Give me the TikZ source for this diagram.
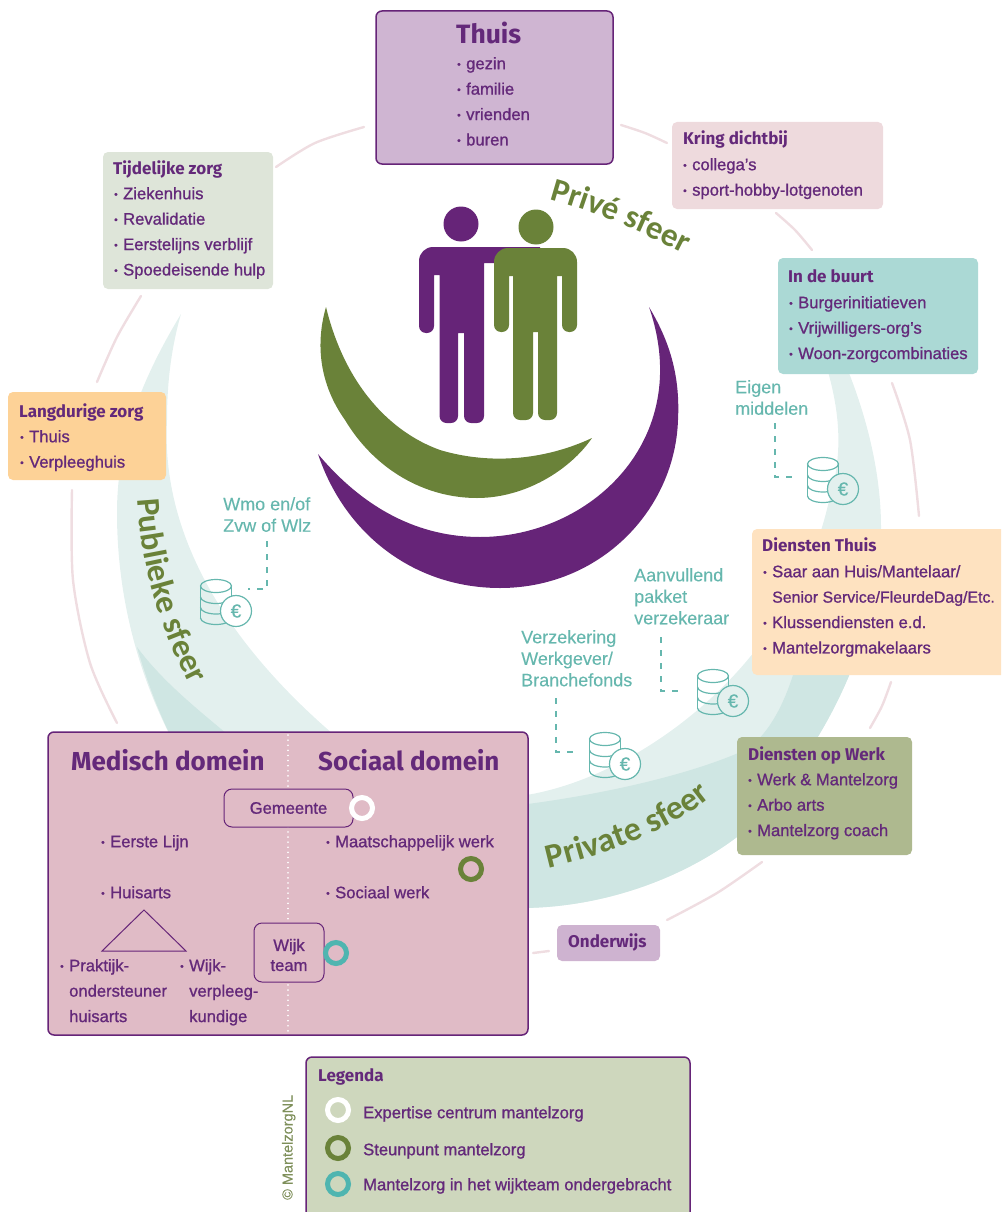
\documentclass[tikz,border=0pt]{standalone}
\usepackage{fontspec}
\usetikzlibrary{decorations.text}
\newfontfamily\bodyf{Liberation Sans}[FakeBold=1]
\newfontfamily\plainf{Liberation Sans}[FakeBold=0.15]
\newfontfamily\headf{Fira Sans}
\newfontfamily\sferf{Carlito}
\definecolor{pp}{HTML}{662478}
\definecolor{txtp}{HTML}{64297A}
\definecolor{gr}{HTML}{6A8239}
\definecolor{tl}{HTML}{66B7AE}
\definecolor{ringt}{HTML}{4FB5B0}
\definecolor{bandl}{HTML}{E3F0EE}
\definecolor{bandd}{HTML}{CFE6E3}
\definecolor{arcc}{HTML}{EFDDE1}
\definecolor{domc}{HTML}{E0BBC6}
\definecolor{thuisc}{HTML}{CFB5D2}
\definecolor{kringc}{HTML}{EEDADD}
\definecolor{tijdc}{HTML}{DEE5D9}
\definecolor{buurtc}{HTML}{ABD9D5}
\definecolor{langc}{HTML}{FDD297}
\definecolor{dienc}{HTML}{FEE2C0}
\definecolor{werkc}{HTML}{AEB98F}
\definecolor{ondc}{HTML}{CEB3D0}
\definecolor{legc}{HTML}{CED7BD}
\definecolor{copyc}{HTML}{7E8F5A}
\newcommand{\fl}{\rule{0pt}{12pt}}
\newcommand{\bul}[1]{\fl\makebox[9pt][l]{\raisebox{1.5pt}{\fontsize{10}{10}\selectfont •}}#1}
\newcommand{\cont}[1]{\fl\hspace*{9pt}#1}
\newcommand{\rightband}{(847,368) .. controls (870,425) and (881,480) .. (881,527) .. controls (881,640) and (820,760) .. (737,837) .. controls (680,880) and (600,908) .. (520,908)
  -- (520,796) .. controls (600,785) and (690,730) .. (750,657) .. controls (790,610) and (815,560) .. (828,505) .. controls (842,460) and (842,420) .. (827,368) -- cycle}
\tikzset{
  panel/.style={rounded corners=5pt,draw=none},
  framed/.style={rounded corners=6pt,draw=pp,line width=1.5pt},
  inbox/.style={rounded corners=8pt,draw=pp,line width=1pt,fill=domc},
  lines/.style={anchor=north west,inner sep=0pt,yshift=12pt,align=left,text=txtp,font=\bodyf\fontsize{16.6}{25.4}\selectfont},
  heading/.style={anchor=base west,inner sep=0pt,text=#1,font=\headf\bfseries\fontsize{17}{20}\selectfont},
  heading/.default=txtp,
  bighead/.style={anchor=base west,inner sep=0pt,text=txtp,font=\headf\bfseries\fontsize{26}{30}\selectfont},
  money/.style={anchor=north west,inner sep=0pt,yshift=12pt,align=left,text=tl,font=\plainf\fontsize{18}{21.5}\selectfont},
  dashline/.style={draw=tl,line width=1.3pt,dash pattern=on 6pt off 7pt},
  arcline/.style={draw=arcc,line width=2.4pt,line cap=round},
  ring/.style={line width=5pt},
  coin/.pic={
    \draw[tl,line width=1.2pt,line cap=round] (0,7) ellipse [x radius=15.5pt,y radius=6.5pt];
    \draw[tl,line width=1.2pt] (-15.5,7) -- (-15.5,39) (15.5,7) -- (15.5,39);
    \foreach \yy in {18,28.5,39}
      \draw[tl,line width=1.2pt] (-15.5,\yy) arc [start angle=180,end angle=360,x radius=15.5pt,y radius=6.5pt];
    \draw[tl,line width=1.2pt,fill=#1] (20,32) circle [radius=15.5pt];
    \node[inner sep=0pt,text=tl,font=\plainf\fontsize{19}{19}\selectfont] (-euro) at (20,32) {€};
  },
}
\begin{document}
\begin{tikzpicture}[x=1pt,y=-1pt]
\useasboundingbox (0,0) rectangle (1001,1212);
\clip (0,0) rectangle (1001,1212);
% sphere bands
\fill[bandl] (181,314) .. controls (135,390) and (117,450) .. (117,513) .. controls (117,590) and (135,670) .. (175,745)
  -- (340,745) -- (340,740) .. controls (245,660) and (160,550) .. (167,420) .. controls (167,380) and (172,345) .. (181,314) -- cycle;
\fill[bandd] (137,647) .. controls (148,685) and (160,715) .. (175,745) -- (240,745) .. controls (205,715) and (165,685) .. (137,647) -- cycle;
\fill[bandl] \rightband;
\begin{scope}
\clip \rightband;
\fill[bandd] (520,805) .. controls (600,795) and (690,775) .. (745,750) .. controls (770,735) and (785,700) .. (793,675) -- (800,640) -- (900,640) -- (900,950) -- (500,950) -- cycle;
\end{scope}
% ring of arcs
\draw[arcline] plot[smooth] coordinates {(364,127) (315,143) (276,167)};
\draw[arcline] plot[smooth] coordinates {(621,125) (645,133) (667,143)};
\draw[arcline] plot[smooth] coordinates {(776,213) (795,230) (812,250)};
\draw[arcline] plot[smooth] coordinates {(892,383) (910,440) (919,516)};
\draw[arcline] plot[smooth] coordinates {(891,682) (882,706) (870,728)};
\draw[arcline] plot[smooth] coordinates {(762,862) (717,893) (667,920)};
\draw[arcline] plot[smooth] coordinates {(533,953) (549,951)};
\draw[arcline] plot[smooth] coordinates {(72,490) (73,580) (90,663) (117,723)};
\draw[arcline] plot[smooth] coordinates {(141,296) (117,337) (97,382)};
% logo
\fill[gr] (326,307) .. controls (315,345) and (320,385) .. (345,420) .. controls (375,470) and (425,498) .. (477,498) .. controls (525,498) and (570,470) .. (592,438)
  .. controls (545,460) and (490,465) .. (440,450) .. controls (390,432) and (345,385) .. (326,307) -- cycle;
\fill[pp] (649,307) .. controls (672,345) and (680,380) .. (678,420) .. controls (675,510) and (600,588) .. (500,588) .. controls (415,588) and (345,535) .. (318,454)
  .. controls (365,510) and (420,537) .. (480,537) .. controls (590,537) and (695,440) .. (649,307) -- cycle;
\fill[pp] (461,224) circle [radius=17.5pt];
\fill[gr] (536,227) circle [radius=17.5pt];
\fill[pp] (419,333) [rounded corners=14pt] -- (419,247) [sharp corners] -- (540,247) -- (540,263) -- (484,263) [rounded corners=7pt]
  -- (484,423) -- (464,423) [sharp corners] -- (464,333) -- (458,333) [rounded corners=7pt] -- (458,423) -- (439.5,423) [sharp corners]
  -- (439.5,275) -- (434,275) [rounded corners=7pt] -- (434,333) -- cycle;
\fill[gr] (494,332) [rounded corners=14pt] -- (494,248) -- (577,248) [rounded corners=7pt] -- (577,332) -- (562,332) [sharp corners]
  -- (562,276) -- (557,276) [rounded corners=7pt] -- (557,420) -- (538,420) [sharp corners] -- (538,332) -- (533,332) [rounded corners=7pt]
  -- (533,420) -- (513,420) [sharp corners] -- (513,276) -- (509,276) [rounded corners=7pt] -- (509,332) -- cycle;
% sphere labels
\path[decorate,decoration={text along path,text align=center,text={|\sferf\bfseries\fontsize{33}{33}\selectfont\color{gr}|Privé sfeer}}]
  (541,197) .. controls (595,211) and (645,233) .. (692,258);
\path[decorate,decoration={text along path,text align=center,text={|\sferf\bfseries\fontsize{33}{33}\selectfont\color{gr}|Publieke sfeer}}]
  (137,494) .. controls (140,560) and (158,625) .. (192,690);
\path[decorate,decoration={text along path,text align=center,text={|\sferf\bfseries\fontsize{34}{34}\selectfont\color{gr}|Private sfeer}}]
  (549,868) .. controls (600,856) and (665,835) .. (711,797);
% coins and money labels
\pic (coinE) at (823,457) {coin=bandl};
\pic (coinW) at (216,579) {coin=white};
\pic (coinA) at (713,669) {coin=bandl};
\pic (coinV) at (605,732) {coin=white};
\node[money] (eigen) at (735,392) {\fl Eigen\\middelen};
\node[money] (wmo) at (223,509) {\fl Wmo en/of\\Zvw of Wlz};
\node[money] (aanv) at (634,580) {\fl Aanvullend\\pakket\\verzekeraar};
\node[money] (verz) at (521,642) {\fl Verzekering\\Werkgever/\\Branchefonds};
\coordinate (eA) at (775,423); \coordinate (eB) at (798,477);
\coordinate (wA) at (267,541); \coordinate (wB) at (248,589);
\coordinate (aA) at (661,637); \coordinate (aB) at (683,691);
\coordinate (vA) at (556,698); \coordinate (vB) at (579,752);
\draw[dashline] (eA) |- (eB);
\draw[dashline] (wA) |- (wB);
\draw[dashline] (aA) |- (aB);
\draw[dashline] (vA) |- (vB);
% panels
\path[framed,fill=thuisc] (376,11) rectangle (613,164);
\node[anchor=base west,inner sep=0pt,text=txtp,font=\headf\bfseries\fontsize{26.5}{30}\selectfont] (thuish) at (456,44) {Thuis};
\node[lines] (thuist) at (457,69) {\bul{gezin}\\\bul{familie}\\\bul{vrienden}\\\bul{buren}};
\path[panel,fill=kringc] (672,122) rectangle (883,209);
\node[heading] (kringh) at (683,144) {Kring dichtbij};
\node[lines] (kringt) at (683,170) {\bul{collega’s}\\\bul{sport-hobby-lotgenoten}};
\path[panel,fill=tijdc] (103,152) rectangle (273,289);
\node[heading] (tijdh) at (113,174) {Tijdelijke zorg};
\node[lines] (tijdt) at (114,199) {\bul{Ziekenhuis}\\\bul{Revalidatie}\\\bul{Eerstelijns verblijf}\\\bul{Spoedeisende hulp}};
\path[panel,fill=buurtc] (778,258) rectangle (978,374);
\node[heading] (buurth) at (788,282) {In de buurt};
\node[lines] (buurtt) at (789,308) {\bul{Burgerinitiatieven}\\\bul{Vrijwilligers-org’s}\\\bul{Woon-zorgcombinaties}};
\path[panel,fill=langc] (8,392) rectangle (166,480);
\node[heading] (langh) at (19,417) {Langdurige zorg};
\node[lines] (langt) at (20,442) {\bul{Thuis}\\\bul{Verpleeghuis}};
\path[panel,fill=dienc] (752,529) rectangle (1010,675);
\node[heading] (dienh) at (762,551) {Diensten Thuis};
\node[lines] (dient) at (763,577) {\bul{Saar aan Huis/Mantelaar/}\\\cont{\fontsize{15.9}{25.4}\selectfont Senior Service/FleurdeDag/Etc.}\\\bul{Klussendiensten e.d.}\\\bul{Mantelzorgmakelaars}};
\path[panel,fill=werkc] (737,737) rectangle (912,855);
\node[heading] (werkh) at (748,760) {Diensten op Werk};
\node[lines] (werkt) at (748,785) {\bul{Werk \& Mantelzorg}\\\bul{Arbo arts}\\\bul{Mantelzorg coach}};
\path[panel,fill=ondc] (557,925) rectangle (660,961);
\node[heading] (ondh) at (568,947) {Onderwijs};
% domain panel
\path[framed,fill=domc] (48,732) rectangle (528,1035);
\coordinate (dotA) at (288,735); \coordinate (dotB) at (288,1033);
\draw[white,line width=1.6pt,line cap=round,dash pattern=on 0.1pt off 5pt] (dotA) -- (dotB);
\node[bighead] (med) at (71,770) {Medisch domein};
\node[bighead] (soc) at (318,770) {Sociaal domein};
\node[inbox,minimum width=129pt,minimum height=38pt,inner sep=0pt,text=txtp,font=\bodyf\fontsize{16.6}{20}\selectfont] (gem) at (288.5,808) {Gemeente};
\path[inbox] (254,923) rectangle (324,982);
\node[inner sep=0pt,align=center,text=txtp,font=\bodyf\fontsize{16.6}{20}\selectfont] (wijk) at (289,955) {Wijk\\team};
\draw[ring,draw=white,fill=domc] (362,808) circle [radius=10.5pt];
\draw[ring,draw=gr,fill=domc] (471,869) circle [radius=10.5pt];
\draw[ring,draw=ringt,fill=domc] (336,953) circle [radius=10.5pt];
\node[lines] (eerste) at (101,847) {\bul{Eerste Lijn}};
\node[lines] (huis) at (101,898) {\bul{Huisarts}};
\node[lines] (prak) at (60,971) {\bul{Praktijk-}\\\cont{ondersteuner}\\\cont{huisarts}};
\node[lines] (wvp) at (180,971) {\bul{Wijk-}\\\cont{verpleeg-}\\\cont{kundige}};
\node[lines] (maat) at (326,847) {\bul{Maatschappelijk werk}};
\node[lines] (sw) at (326,898) {\bul{Sociaal werk}};
\coordinate (triA) at (144,910); \coordinate (triB) at (102,951); \coordinate (triC) at (186,951);
\draw[pp,line width=1pt] (triA) -- (triB) -- (triC) -- cycle;
% legend
\path[framed,fill=legc] (306,1057) rectangle (690,1240);
\node[heading] (legh) at (318,1081) {Legenda};
\draw[ring,draw=white] (338,1110) circle [radius=10.5pt];
\draw[ring,draw=gr] (338,1148) circle [radius=10.5pt];
\draw[ring,draw=ringt] (338,1184) circle [radius=10.5pt];
\node[lines] (l1) at (363,1118) {\fl Expertise centrum mantelzorg};
\node[lines] (l2) at (363,1155) {\fl Steunpunt mantelzorg};
\node[lines] (l3) at (363,1190) {\fl Mantelzorg in het wijkteam ondergebracht};
\node[rotate=90,anchor=base west,inner sep=0pt,text=copyc,font=\plainf\fontsize{14.5}{15}\selectfont] (copyr) at (292.5,1200) {© MantelzorgNL};
\end{tikzpicture}
\end{document}
